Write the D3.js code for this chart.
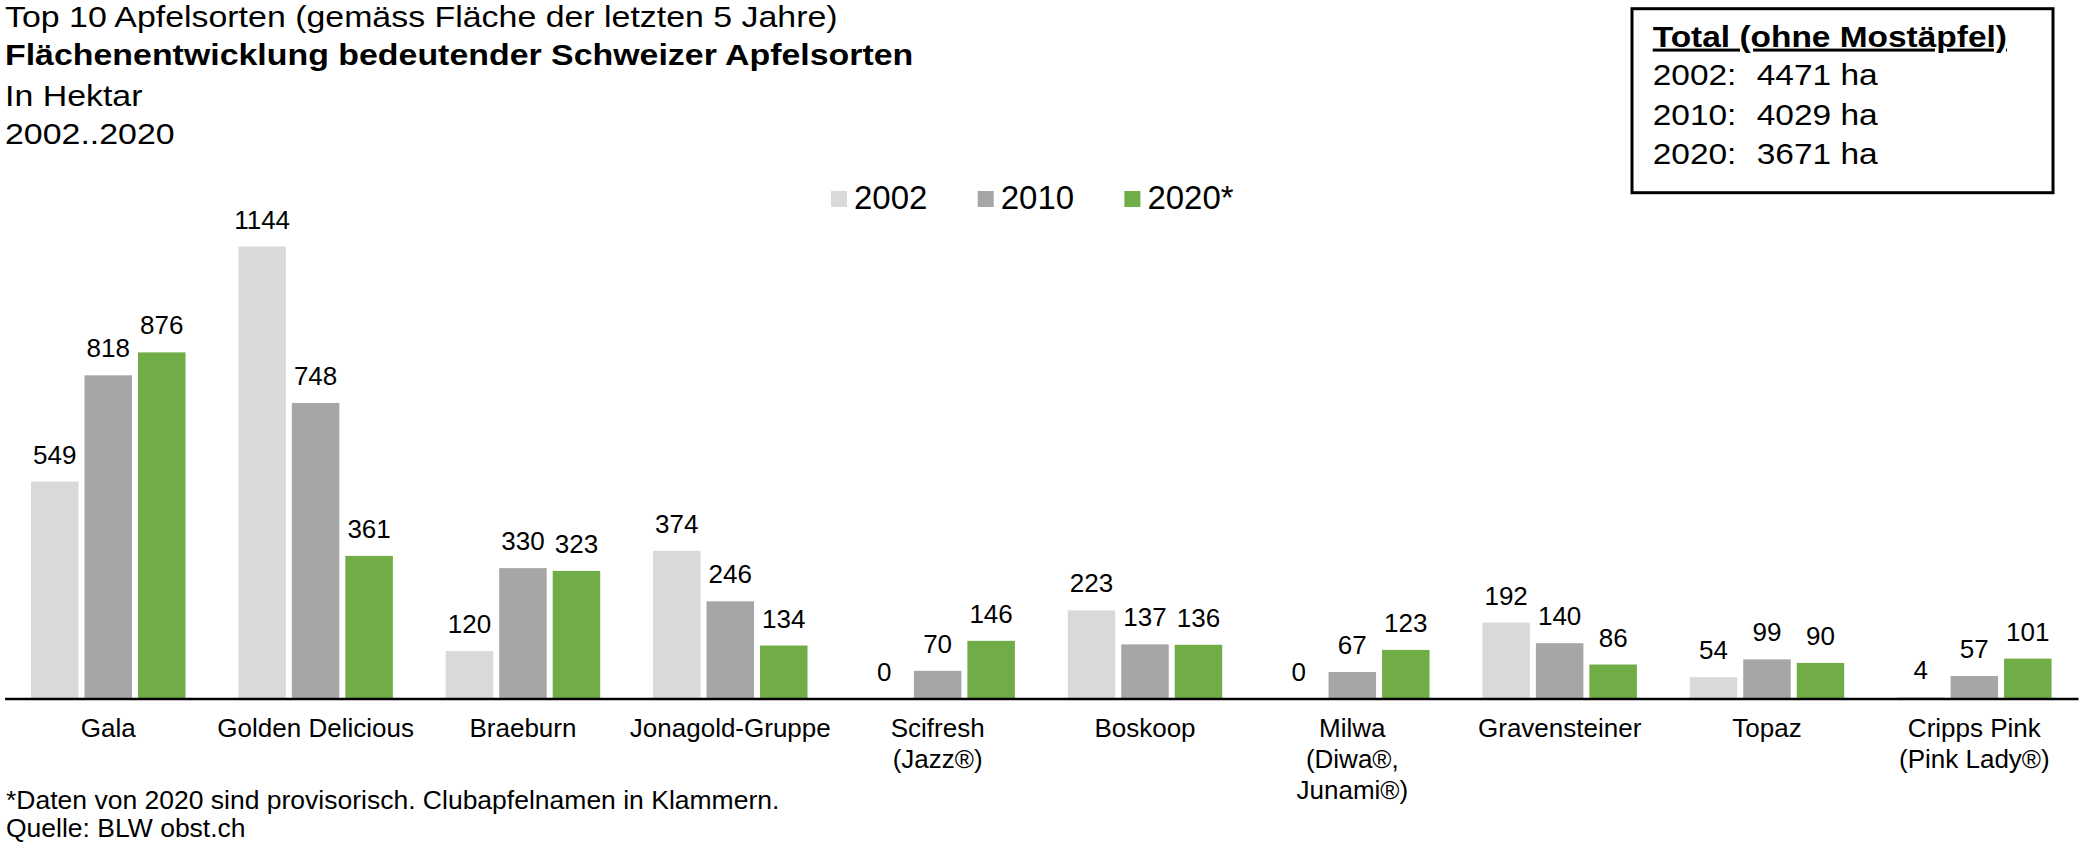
<!DOCTYPE html>
<html>
<head>
<meta charset="utf-8" />
<title>Apfelsorten</title>
<script src="https://d3js.org/d3.v7.min.js"></script>
<style>
body{margin:0;background:#fff;}
svg text{font-family:"Liberation Sans",Arial,sans-serif;fill:#000;}
</style>
</head>
<body>
<div id="chart"></div>
<script>
var width = 2081,
    height = 844;

// Daten
var categories = ["Gala", "Golden Delicious", "Braeburn", "Jonagold-Gruppe", "Scifresh\n(Jazz®)", "Boskoop",
    "Milwa\n(Diwa®,\nJunami®)", "Gravensteiner", "Topaz", "Cripps Pink\n(Pink Lady®)"];
var years = ["2002", "2010", "2020*"];
var v2002 = [549, 1144, 120, 374, 0, 223, 0, 192, 54, 4];
var v2010 = [818, 748, 330, 246, 70, 137, 67, 140, 99, 57];
var v2020 = [876, 361, 323, 134, 146, 136, 123, 86, 90, 101];
var colors = ["#d9d9d9", "#a6a6a6", "#70ad47"];

var titleLines = ["Top 10 Apfelsorten (gemäss Fläche der letzten 5 Jahre)",
    "Flächenentwicklung bedeutender Schweizer Apfelsorten",
    "In Hektar",
    "2002..2020"];
var totalTitle = "Total (ohne Mostäpfel)";
var totalYears = ["2002:", "2010:", "2020:"];
var totalValues = [4471, 4029, 3671];
var notes = ["*Daten von 2020 sind provisorisch. Clubapfelnamen in Klammern.", "Quelle: BLW obst.ch"];

var series = [v2002, v2010, v2020];

var svg = d3.select("#chart")
    .append("svg")
    .attr("width", width)
    .attr("height", height);

// Skalen
var x0 = d3.scaleBand()
    .domain(categories)
    .range([4.6, 2078]);

var x1 = d3.scaleBand()
    .domain(years)
    .range([0, x0.bandwidth()])
    .paddingInner(0.112)
    .paddingOuter(0.494);

var y = d3.scaleLinear()
    .domain([0, 1144])
    .range([698.5, 246.5]);

// Balken
var groups = svg.append("g")
    .selectAll("g")
    .data(categories)
    .enter()
    .append("g")
    .attr("transform", function(d) { return "translate(" + x0(d) + ",0)"; });

groups.selectAll("rect")
    .data(function(d, i) {
        return years.map(function(yr, j) { return {year: yr, value: series[j][i], idx: j}; });
    })
    .enter()
    .append("rect")
    .attr("x", function(d) { return x1(d.year); })
    .attr("width", x1.bandwidth())
    .attr("y", function(d) { return y(d.value); })
    .attr("height", function(d) { return y(0) - y(d.value); })
    .attr("fill", function(d) { return colors[d.idx]; });

groups.selectAll("text.val")
    .data(function(d, i) {
        return years.map(function(yr, j) { return {year: yr, value: series[j][i]}; });
    })
    .enter()
    .append("text")
    .attr("class", "val")
    .attr("x", function(d) { return x1(d.year) + x1.bandwidth() / 2; })
    .attr("y", function(d) { return y(d.value) - 18; })
    .attr("text-anchor", "middle")
    .attr("font-size", "26px")
    .text(function(d) { return d.value; });

// x-Achse
var axis = svg.append("g")
    .attr("transform", "translate(0," + y(0) + ")")
    .call(d3.axisBottom(x0).tickSize(0).tickSizeOuter(0));

axis.select(".domain")
    .attr("stroke", "#000")
    .attr("stroke-width", 2.5);

axis.selectAll(".tick text").each(function(d) {
    var t = d3.select(this).text(null).attr("y", null).attr("dy", null)
        .attr("font-size", "26px")
        .attr("font-family", '"Liberation Sans",Arial,sans-serif')
        .attr("fill", "#000");
    d.split("\n").forEach(function(line, i) {
        t.append("tspan").attr("x", 0).attr("y", 38.5 + i * 31).text(line);
    });
});

// Legende
var legend = svg.append("g")
    .selectAll("g")
    .data(years)
    .enter()
    .append("g")
    .attr("transform", function(d, i) { return "translate(" + (831 + i * 146.7) + ",0)"; });

legend.append("rect")
    .attr("y", 191)
    .attr("width", 16)
    .attr("height", 16)
    .attr("fill", function(d, i) { return colors[i]; });

legend.append("text")
    .attr("x", 23)
    .attr("y", 209)
    .attr("font-size", "33px")
    .text(function(d) { return d; });

// Titel
var title = svg.append("g")
    .attr("transform", "translate(5,0) scale(1.13,1)");
var titleY = [27.5, 65.5, 106, 144];
title.selectAll("text")
    .data(titleLines)
    .enter()
    .append("text")
    .attr("y", function(d, i) { return titleY[i]; })
    .attr("font-size", "30px")
    .attr("font-weight", function(d, i) { return i == 1 ? "bold" : "normal"; })
    .text(function(d) { return d; });

// Box Total
svg.append("rect")
    .attr("x", 1632)
    .attr("y", 8.7)
    .attr("width", 421)
    .attr("height", 184)
    .attr("fill", "#fff")
    .attr("stroke", "#000")
    .attr("stroke-width", 3);

var box = svg.append("g")
    .attr("transform", "translate(1652.7,0) scale(1.115,1)");

box.append("text")
    .attr("y", 46.7)
    .attr("font-size", "30px")
    .attr("font-weight", "bold")
    .style("text-decoration", "underline")
    .text(totalTitle);

var boxY = [85, 125, 164];
box.selectAll("text.yr")
    .data(totalYears)
    .enter()
    .append("text")
    .attr("class", "yr")
    .attr("y", function(d, i) { return boxY[i]; })
    .attr("font-size", "30px")
    .text(function(d) { return d; });

box.selectAll("text.tv")
    .data(totalValues)
    .enter()
    .append("text")
    .attr("class", "tv")
    .attr("x", 93.3)
    .attr("y", function(d, i) { return boxY[i]; })
    .attr("font-size", "30px")
    .text(function(d) { return d + " ha"; });

// Fussnoten
svg.selectAll("text.note")
    .data(notes)
    .enter()
    .append("text")
    .attr("class", "note")
    .attr("x", 6)
    .attr("y", function(d, i) { return 809 + i * 28; })
    .attr("font-size", "26.5px")
    .text(function(d) { return d; });
</script>
</body>
</html>
